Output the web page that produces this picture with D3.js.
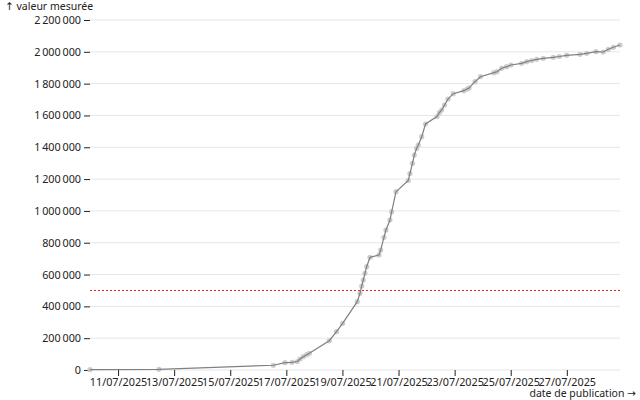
<!DOCTYPE html>
<html><head><meta charset="utf-8">
<script src="https://cdn.jsdelivr.net/npm/d3@7"></script>
<style>
body{margin:0;background:#fff;}
svg{font-family:"Noto Sans","DejaVu Sans",sans-serif;font-size:10px;}
</style></head>
<body><svg id="c" width="640" height="400"></svg>
<script>
const dates = ["2025-07-10T00:00","2025-07-12T11:00","2025-07-16T12:50","2025-07-16T22:50","2025-07-17T04:50","2025-07-17T09:20","2025-07-17T11:40","2025-07-17T14:30","2025-07-17T17:25","2025-07-17T19:40","2025-07-18T12:45","2025-07-18T18:55","2025-07-19T00:10","2025-07-19T12:40","2025-07-19T15:00","2025-07-19T16:30","2025-07-19T17:50","2025-07-19T19:15","2025-07-19T20:45","2025-07-19T23:35","2025-07-20T07:15","2025-07-20T08:45","2025-07-20T11:30","2025-07-20T13:15","2025-07-20T16:40","2025-07-20T18:10","2025-07-20T21:50","2025-07-21T08:20","2025-07-21T09:45","2025-07-21T11:55","2025-07-21T13:30","2025-07-21T15:30","2025-07-21T16:55","2025-07-21T19:50","2025-07-21T23:05","2025-07-22T08:55","2025-07-22T10:55","2025-07-22T12:55","2025-07-22T15:20","2025-07-22T18:20","2025-07-22T22:50","2025-07-23T08:00","2025-07-23T11:00","2025-07-23T12:20","2025-07-23T17:25","2025-07-23T22:05","2025-07-24T09:40","2025-07-24T12:15","2025-07-24T16:15","2025-07-24T20:30","2025-07-25T00:10","2025-07-25T09:20","2025-07-25T13:40","2025-07-25T17:55","2025-07-25T22:10","2025-07-26T03:50","2025-07-26T12:25","2025-07-26T17:30","2025-07-26T23:50","2025-07-27T11:15","2025-07-27T17:00","2025-07-28T00:55","2025-07-28T07:10","2025-07-28T11:30","2025-07-28T15:50","2025-07-28T21:30"];
const values = [2000,4000,30000,45900,48400,53400,69100,83600,96200,105000,184000,240700,293500,429300,482100,528000,565700,607800,649300,708400,722900,754300,834100,880000,942900,995000,1120700,1191100,1235100,1299300,1351400,1393600,1414300,1466500,1546300,1593400,1617300,1634300,1665700,1703400,1736800,1755600,1767500,1772600,1812200,1843600,1868800,1875000,1896400,1906500,1917200,1927800,1937900,1945400,1953000,1959300,1965600,1970600,1978100,1984400,1990700,2000700,1998900,2015800,2028400,2042900];
const thresholdValue = 500000;
const yTicks = [0,200000,400000,600000,800000,1000000,1200000,1400000,1600000,1800000,2000000,2200000];
const xTickDates = ["2025-07-11","2025-07-13","2025-07-15","2025-07-17","2025-07-19","2025-07-21","2025-07-23","2025-07-25","2025-07-27"];
const yLabel = "↑ valeur mesurée";
const xLabel = "date de publication →";

const W=640,H=400,mL=90,mR=20,mT=20,mB=30;
const parse = d3.utcParse("%Y-%m-%dT%H:%M");
const parseDay = d3.utcParse("%Y-%m-%d");
const data = dates.map((d,i)=>({t:parse(d), v:values[i]}));
const svg = d3.select("#c");
const x = d3.scaleUtc().domain(d3.extent(data,d=>d.t)).range([mL,W-mR]);
const y = d3.scaleLinear().domain([0,2200000]).range([H-mB,mT]);
const fr = d3.formatLocale({decimal:",",thousands:"\u202f",grouping:[3],currency:["","€"]});
const fmt = fr.format(",d");
const FF = "Noto Sans, DejaVu Sans, sans-serif";

// grid
svg.append("g").selectAll("line").data(yTicks).join("line")
  .attr("x1",mL).attr("x2",W-mR).attr("y1",d=>y(d)).attr("y2",d=>y(d))
  .attr("stroke","#000").attr("stroke-opacity",0.1);

// y axis
const ya = svg.append("g").attr("transform",`translate(${mL},0)`)
  .call(d3.axisLeft(y).tickValues(yTicks).tickFormat(fmt).tickSize(6).tickPadding(3));
ya.select(".domain").remove();
ya.selectAll("text").attr("font-size",10.8).attr("font-family",FF).attr("fill","#222");
ya.selectAll("line").attr("stroke","#222");

// x axis
const xa = svg.append("g").attr("transform",`translate(0,${H-mB})`)
  .call(d3.axisBottom(x).tickValues(xTickDates.map(parseDay)).tickFormat(d3.utcFormat("%d/%m/%Y")).tickSize(6).tickPadding(2));
xa.select(".domain").remove();
xa.selectAll("text").attr("font-size",10.8).attr("font-family",FF).attr("fill","#222");
xa.selectAll("line").attr("stroke","#222");

// threshold
svg.append("line").attr("x1",mL).attr("x2",W-mR)
  .attr("y1",y(thresholdValue)).attr("y2",y(thresholdValue))
  .attr("stroke","#e0202a").attr("stroke-width",1).attr("stroke-dasharray","2,2");

// dots
svg.append("g").selectAll("circle").data(data).join("circle")
  .attr("cx",d=>x(d.t)).attr("cy",d=>y(d.v)).attr("r",2.6)
  .attr("fill","#c8c8c8").attr("fill-opacity",0.9);

// line
svg.append("path").datum(data)
  .attr("d",d3.line().x(d=>x(d.t)).y(d=>y(d.v)))
  .attr("fill","none").attr("stroke","#808080").attr("stroke-width",1.2);

// labels
svg.append("text").attr("x",5).attr("y",10).attr("fill","#222").attr("font-size",10.5).text(yLabel);
svg.append("text").attr("x",636).attr("y",397).attr("text-anchor","end").attr("font-size",10.5).attr("fill","#222").text(xLabel);
</script></body></html>
